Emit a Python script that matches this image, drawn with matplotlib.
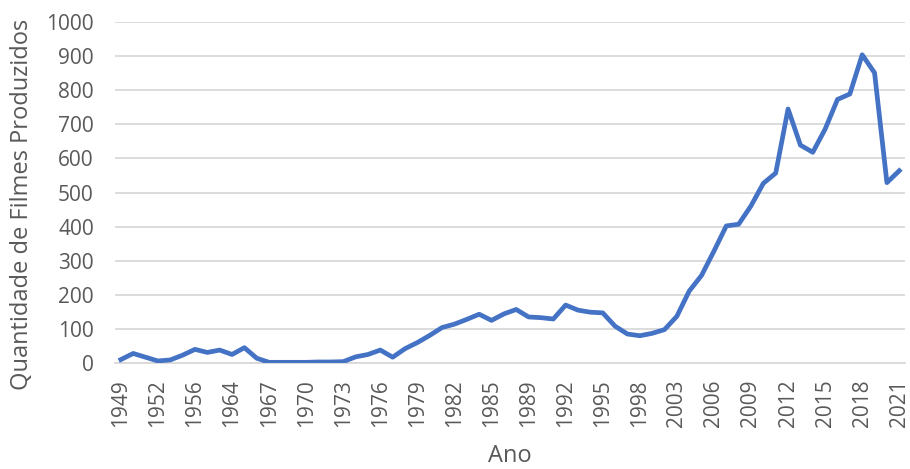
import numpy as np
import matplotlib
matplotlib.use('Agg')
import matplotlib.pyplot as plt

plt.rcParams['font.family'] = ['Open Sans', 'DejaVu Sans']

# anos com registro (categorias do eixo x)
anos = [1949, 1950, 1951, 1952, 1953, 1955, 1956, 1960, 1962, 1964,
        1965, 1966, 1967, 1968, 1969, 1970, 1971, 1972, 1973, 1974,
        1975, 1976, 1977, 1978, 1979, 1980, 1981, 1982, 1983, 1984,
        1985, 1987, 1988, 1989, 1990, 1991, 1992, 1993, 1994, 1995,
        1996, 1997, 1998, 2000, 2002, 2003, 2004, 2005, 2006, 2007,
        2008, 2009, 2010, 2011, 2012, 2013, 2014, 2015, 2016, 2017,
        2018, 2019, 2020, 2021]

filmes = [10, 28, 17, 6, 9, 23, 40, 31, 38, 25,
          45, 14, 2, 2, 2, 2, 3, 3, 4, 18,
          25, 38, 17, 42, 60, 81, 104, 114, 128, 143,
          125, 144, 157, 135, 133, 129, 170, 155, 149, 147,
          108, 85, 80, 87, 98, 137, 211, 257, 328, 402,
          407, 461, 527, 557, 745, 639, 618, 686, 773, 789,
          904, 851, 529, 564]

azul = '#4472C4'
cinza = '#595959'

fig = plt.figure(figsize=(9.1, 4.69), dpi=100)
ax = fig.add_axes([0.126, 0.226, 0.869, 0.727])

x = np.arange(len(anos))
ax.plot(x, filmes, color=azul, linewidth=3.4, solid_joinstyle='round', zorder=3)

ax.set_xlim(-0.5, len(anos) - 0.5)
ax.set_ylim(0, 1000)
ax.set_yticks(np.arange(0, 1001, 100))
ax.yaxis.grid(True, color='#d9d9d9', linewidth=1.3)
ax.set_axisbelow(True)

ticks = x[::3]
ax.set_xticks(ticks)
ax.set_xticklabels([str(anos[i]) for i in ticks], rotation=90)

for s in ['top', 'right', 'left']:
    ax.spines[s].set_visible(False)
ax.spines['bottom'].set_color('#d9d9d9')
ax.spines['bottom'].set_linewidth(1.3)

ax.tick_params(axis='both', length=0, labelsize=15, colors=cinza)
ax.tick_params(axis='y', pad=15)
ax.tick_params(axis='x', pad=12)

ax.set_xlabel('Ano', fontsize=17, color=cinza)
ax.set_ylabel('Quantidade de Filmes Produzidos', fontsize=17, color=cinza)
ax.xaxis.set_label_coords(0.5, -0.237)
ax.yaxis.set_label_coords(-0.102, 0.464)

fig.savefig('out.png', dpi=100)
